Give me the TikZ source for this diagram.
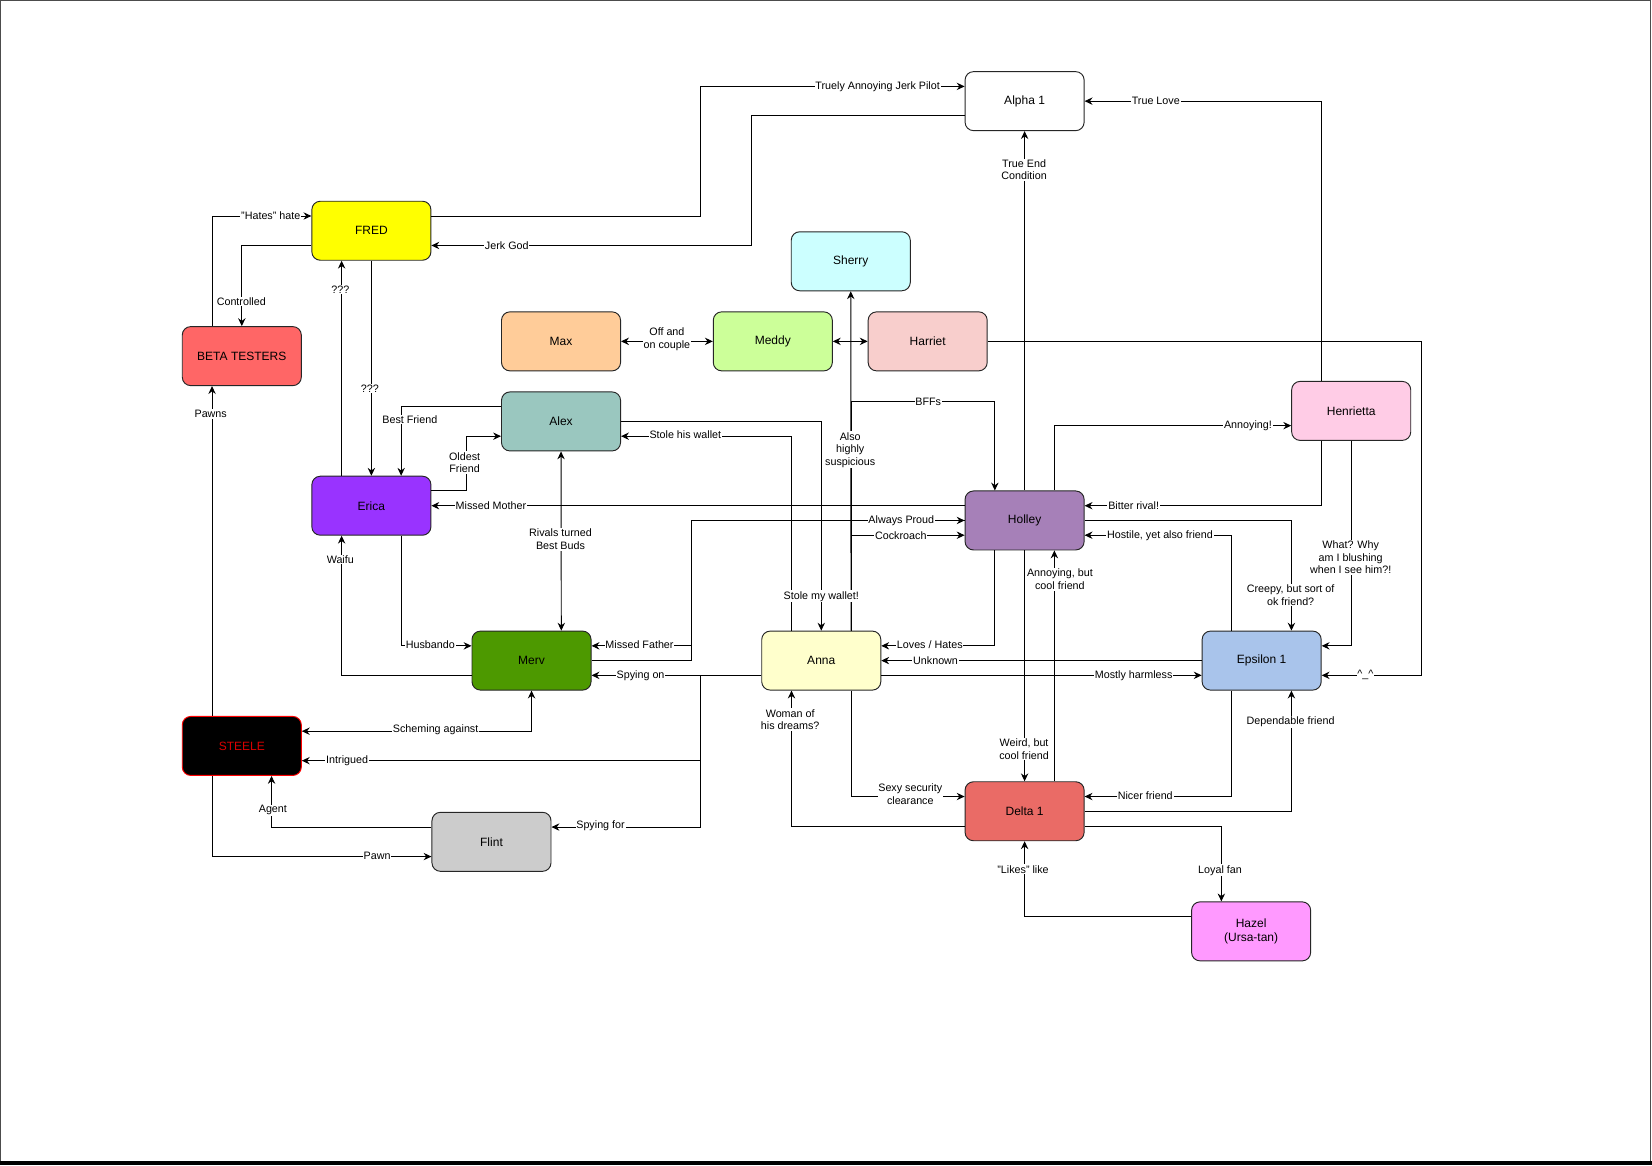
\documentclass[tikz,border=0pt]{standalone}
\usepackage{fontspec}
\setmainfont{Liberation Sans}
\usetikzlibrary{arrows.meta}

\definecolor{fredyellow}{HTML}{FFFF00}
\definecolor{sherrycyan}{HTML}{CCFFFF}
\definecolor{maxorange}{HTML}{FFCC99}
\definecolor{meddygreen}{HTML}{CCFF99}
\definecolor{harrietpink}{HTML}{F8CECC}
\definecolor{betared}{HTML}{FF6666}
\definecolor{alexteal}{HTML}{9AC7BF}
\definecolor{henriettapink}{HTML}{FFCCE6}
\definecolor{ericapurple}{HTML}{9933FF}
\definecolor{holleypurple}{HTML}{A680B8}
\definecolor{mervgreen}{HTML}{4D9900}
\definecolor{annayellow}{HTML}{FFFFCC}
\definecolor{epsilonblue}{HTML}{A9C4EB}
\definecolor{deltared}{HTML}{EA6B66}
\definecolor{flintgray}{HTML}{CCCCCC}
\definecolor{hazelpink}{HTML}{FF99FF}

\tikzset{
  person/.style={draw=black!85, line width=0.9pt, rounded corners=8pt,
    minimum width=113pt, minimum height=56pt, align=center,
    font=\fontsize{11.4}{13.5}\selectfont},
  lbl/.style={fill=white, inner sep=0.8pt, align=center,
    font=\fontsize{10.2}{12}\selectfont},
  link/.style={line width=0.9pt, ->},
}

\begin{document}
\begin{tikzpicture}[x=1pt,y=-1pt,>={Stealth[length=7.5pt,width=7pt,inset=2.5pt]}]
  \useasboundingbox (0,0) rectangle (1568,1106);
  % page frame
  \draw[gray!60!black, line width=1.2pt] (0.6,0.6) rectangle (1566.5,1103);
  \fill[black] (0,1102) rectangle (1568,1106);

  % characters
  \node[person, fill=white] (alpha) at (972.5,96) {Alpha 1};
  \node[person, fill=fredyellow] (fred) at (352.5,219) {FRED};
  \node[person, fill=sherrycyan] (sherry) at (807.5,248) {Sherry};
  \node[person, fill=maxorange] (max) at (532.5,324) {Max};
  \node[person, fill=meddygreen] (meddy) at (733.5,324) {Meddy};
  \node[person, fill=harrietpink] (harriet) at (880.5,324) {Harriet};
  \node[person, fill=betared] (beta) at (229.5,338) {BETA TESTERS};
  \node[person, fill=alexteal] (alex) at (532.5,400) {Alex};
  \node[person, fill=henriettapink] (henrietta) at (1282.5,390) {Henrietta};
  \node[person, fill=ericapurple] (erica) at (352.5,480) {Erica};
  \node[person, fill=holleypurple] (holley) at (972.5,494) {Holley};
  \node[person, fill=mervgreen] (merv) at (504.5,627) {Merv};
  \node[person, fill=annayellow] (anna) at (779.5,627) {Anna};
  \node[person, fill=epsilonblue] (epsilon) at (1197.5,627) {Epsilon 1};
  \node[person, fill=black, draw=red, text=red!85!black] (steele) at (229.5,708) {STEELE};
  \node[person, fill=deltared] (delta) at (972.5,770) {Delta 1};
  \node[person, fill=flintgray] (flint) at (466.5,799) {Flint};
  \node[person, fill=hazelpink] (hazel) at (1187.5,884) {Hazel\\(Ursa-tan)};

  % relations
  \draw[link] ([yshift=14pt]fred.east) -| (665,150) |- ([yshift=14pt]alpha.west);
  \draw[link] ([yshift=-14pt]alpha.west) -| (713,170) |- ([yshift=-14pt]fred.east);
  \draw[link] (holley.north) -- (alpha.south);
  \draw[link] ([xshift=-28.25pt]henrietta.north) |- (alpha.east);
  \draw[link] ([xshift=-28.25pt]beta.north) |- ([yshift=14pt]fred.west);
  \draw[link] ([yshift=-14pt]fred.west) -| (beta.north);
  \draw[link] ([xshift=-28.25pt]steele.north) -- ([xshift=-28.25pt]beta.south);
  \draw[link] ([xshift=-28.25pt]erica.north) -- ([xshift=-28.25pt]fred.south);
  \draw[link] (fred.south) -- (erica.north);
  \draw[link] ([yshift=14pt]alex.west) -| ([xshift=28.25pt]erica.north);
  \draw[link] ([yshift=14pt]erica.east) -| (443,440) |- ([yshift=-14pt]alex.west);
  \draw[link] ([yshift=14pt]holley.west) -- (erica.east);
  \draw[link,<->] (alex.south) -- ([xshift=28.25pt]merv.north);
  \draw[link] ([xshift=28.25pt]erica.south) |- ([yshift=14pt]merv.west);
  \draw[link] ([yshift=-14pt]merv.west) -| ([xshift=-28.25pt]erica.south);
  \draw[link] (merv.east) -| (656,560) |- (holley.west);
  \draw[link] (holley.west) -| (656,560) |- ([yshift=14pt]merv.east);
  \draw[link] ([yshift=-14pt]anna.west) -- ([yshift=-14pt]merv.east);
  \draw[link] ([yshift=-14pt]anna.west) -| (665,700) |- ([yshift=-14pt]steele.east);
  \draw[link] ([yshift=-14pt]anna.west) -| (665,700) |- ([yshift=14pt]flint.east);
  \draw[link,<->] (merv.south) |- ([yshift=14pt]steele.east);
  \draw[link] ([yshift=14pt]flint.west) -| ([xshift=28.25pt]steele.south);
  \draw[link] ([xshift=-28.25pt]steele.south) |- ([yshift=-14pt]flint.west);
  \draw[link,<->] (max.east) -- (meddy.west);
  \draw[link,<->] (meddy.east) -- (harriet.west);
  \draw[link] (harriet.east) -| (1349,480) |- ([yshift=-14pt]epsilon.east);
  \draw[link] ([xshift=28.25pt]anna.north) -- (sherry.south);
  \draw[link] ([xshift=28.25pt]anna.north) |- (900,381) -| ([xshift=-28.25pt]holley.north);
  \draw[link] ([xshift=28.25pt]anna.north) |- ([yshift=-14pt]holley.west);
  \draw[link] (alex.east) -| (anna.north);
  \draw[link] ([xshift=-28.25pt]anna.north) |- ([yshift=-14pt]alex.east);
  \draw[link] ([xshift=-28.25pt]holley.south) |- ([yshift=14pt]anna.east);
  \draw[link] (epsilon.west) -- (anna.east);
  \draw[link] ([yshift=-14pt]anna.east) -- ([yshift=-14pt]epsilon.west);
  \draw[link] (holley.south) -- (delta.north);
  \draw[link] ([xshift=28.25pt]delta.north) -- ([xshift=28.25pt]holley.south);
  \draw[link] ([xshift=28.25pt]holley.north) |- ([yshift=-14pt]henrietta.west);
  \draw[link] ([xshift=-28.25pt]henrietta.south) |- ([yshift=14pt]holley.east);
  \draw[link] (holley.east) -| ([xshift=28.25pt]epsilon.north);
  \draw[link] ([xshift=-28.25pt]epsilon.north) |- ([yshift=-14pt]holley.east);
  \draw[link] (henrietta.south) |- ([yshift=14pt]epsilon.east);
  \draw[link] ([xshift=28.25pt]anna.south) |- ([yshift=14pt]delta.west);
  \draw[link] ([yshift=-14pt]delta.west) -| ([xshift=-28.25pt]anna.south);
  \draw[link] ([xshift=-28.25pt]epsilon.south) |- ([yshift=14pt]delta.east);
  \draw[link] (delta.east) -| ([xshift=28.25pt]epsilon.south);
  \draw[link] ([yshift=-14pt]delta.east) -| ([xshift=-28.25pt]hazel.north);
  \draw[link] ([yshift=14pt]hazel.west) -| (delta.south);

  % relation labels
  \node[lbl] (l-pilot) at (833,82) {Truely Annoying Jerk Pilot};
  \node[lbl] (l-jerkgod) at (481,233) {Jerk God};
  \node[lbl] (l-trueend) at (972,161) {True End\\Condition};
  \node[lbl] (l-truelove) at (1097,96) {True Love};
  \node[lbl] (l-hates) at (257,205) {"Hates" hate};
  \node[lbl] (l-controlled) at (229,286) {Controlled};
  \node[lbl] (l-pawns) at (200,393) {Pawns};
  \node[lbl] (l-qup) at (323,275) {???};
  \node[lbl] (l-qdown) at (351,369) {???};
  \node[lbl] (l-bestfriend) at (389,398) {Best Friend};
  \node[lbl] (l-oldest) at (441,439) {Oldest\\Friend};
  \node[lbl] (l-mother) at (466,480) {Missed Mother};
  \node[lbl] (l-rivals) at (532,512) {Rivals turned\\Best Buds};
  \node[lbl] (l-husbando) at (408.5,612) {Husbando};
  \node[lbl] (l-waifu) at (323,531) {Waifu};
  \node[lbl] (l-proud) at (855.5,494) {Always Proud};
  \node[lbl] (l-father) at (607,612) {Missed Father};
  \node[lbl] (l-spyon) at (608,641) {Spying on};
  \node[lbl] (l-intrigued) at (329.5,722) {Intrigued};
  \node[lbl] (l-spyfor) at (570,784) {Spying for};
  \node[lbl] (l-scheming) at (413.5,693) {Scheming against};
  \node[lbl] (l-agent) at (259,769) {Agent};
  \node[lbl] (l-pawn) at (358,812) {Pawn};
  \node[lbl] (l-offon) at (633,322) {Off and\\on couple};
  \node[lbl] (l-smile) at (1296,641) {\^{}\_\^{}};
  \node[lbl] (l-suspicious) at (807,427) {Also\\highly\\suspicious};
  \node[lbl] (l-bffs) at (881,381) {BFFs};
  \node[lbl] (l-cockroach) at (855,508) {Cockroach};
  \node[lbl] (l-mywallet) at (779.5,566) {Stole my wallet!};
  \node[lbl] (l-hiswallet) at (650.5,413) {Stole his wallet};
  \node[lbl] (l-loves) at (882.5,612) {Loves / Hates};
  \node[lbl] (l-unknown) at (888,627) {Unknown};
  \node[lbl] (l-harmless) at (1076,641) {Mostly harmless};
  \node[lbl] (l-weird) at (972,711) {Weird, but\\cool friend};
  \node[lbl] (l-annoycool) at (1006,550) {Annoying, but\\cool friend};
  \node[lbl] (l-annoying) at (1184.5,404) {Annoying!};
  \node[lbl] (l-bitter) at (1076,480) {Bitter rival!};
  \node[lbl] (l-creepy) at (1225,565) {Creepy, but sort of\\ok friend?};
  \node[lbl] (l-hostile) at (1101,508) {Hostile, yet also friend};
  \node[lbl] (l-blushing) at (1282,529) {What? Why\\am I blushing\\when I see him?!};
  \node[lbl] (l-sexy) at (864,754) {Sexy security\\clearance};
  \node[lbl] (l-woman) at (750,683) {Woman of\\his dreams?};
  \node[lbl] (l-nicer) at (1087,755) {Nicer friend};
  \node[lbl] (l-dependable) at (1225,685) {Dependable friend};
  \node[lbl] (l-loyal) at (1158,826) {Loyal fan};
  \node[lbl] (l-likes) at (971,825) {"Likes" like};
\end{tikzpicture}
\end{document}
